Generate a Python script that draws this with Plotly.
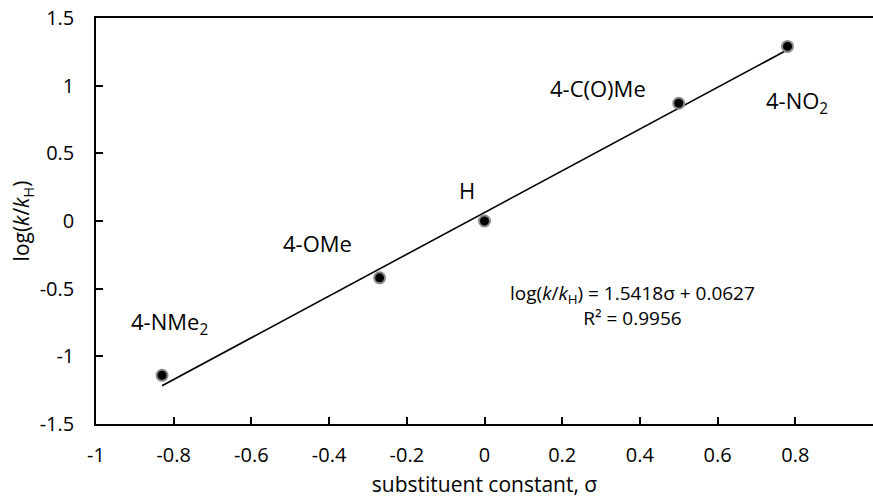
import plotly.graph_objects as go

sigma = [-0.83, -0.27, 0.0, 0.50, 0.78]
logk = [-1.14, -0.42, 0.0, 0.87, 1.29]
labels = ["4-NMe<sub>2</sub>", "4-OMe", "H", "4-C(O)Me", "4-NO<sub>2</sub>"]
label_x = [-0.81, -0.43, -0.045, 0.292, 0.804]
label_y = [-0.75, -0.165, 0.23, 0.985, 0.88]
slope = 1.5418
intercept = 0.0627
r2 = 0.9956

x_ticks = [-1, -0.8, -0.6, -0.4, -0.2, 0, 0.2, 0.4, 0.6, 0.8, 1]
x_ticktext = ["-1", "-0.8", "-0.6", "-0.4", "-0.2", "0", "0.2", "0.4", "0.6", "0.8", "1"]
y_ticks = [-1.5, -1, -0.5, 0, 0.5, 1, 1.5]
y_ticktext = ["-1.5", "-1", "-0.5", "0", "0.5", "1", "1.5"]

fit_x = [min(sigma), max(sigma)]
fit_y = [slope * v + intercept for v in fit_x]

FONT = "'Open Sans', Lato, sans-serif"

fig = go.Figure()
fig.add_trace(go.Scatter(x=fit_x, y=fit_y, mode="lines",
                         line=dict(color="black", width=1.6), showlegend=False,
                         hoverinfo="skip"))
fig.add_trace(go.Scatter(x=sigma, y=logk, mode="markers",
                         marker=dict(color="black", size=11,
                                     line=dict(color="#8a8a8a", width=2)),
                         showlegend=False))

for t, x, y in zip(labels, label_x, label_y):
    fig.add_annotation(x=x, y=y, text=t, showarrow=False,
                       font=dict(family=FONT, size=22, color="black"))

fig.add_annotation(x=0.38, y=-0.628, showarrow=False, align="center",
                   text=(f"log(<i>k</i>/<i>k</i><sub>H</sub>) = {slope}σ + {intercept}"
                         f"<br>R² = {r2}"),
                   font=dict(family=FONT, size=19, color="black"))

fig.update_layout(
    width=873, height=498,
    margin=dict(l=96, r=0, t=18, b=74),
    plot_bgcolor="white", paper_bgcolor="white",
    font=dict(family=FONT, size=16, color="black"),
    xaxis=dict(range=[-1, 1], tickvals=x_ticks, ticktext=x_ticktext,
               showgrid=False, zeroline=False, automargin=False,
               showline=True, linecolor="black", linewidth=1.5, mirror=True,
               ticks="inside", ticklen=7, tickcolor="black", tickwidth=1.5,
               tickfont=dict(size=20), ticklabelstandoff=12,
               title=dict(text="substituent constant, σ", font=dict(size=21), standoff=12)),
    yaxis=dict(range=[-1.5, 1.5], tickvals=y_ticks, ticktext=y_ticktext,
               showgrid=False, zeroline=False, automargin=False,
               showline=True, linecolor="black", linewidth=1.5, mirror=True,
               ticks="inside", ticklen=7, tickcolor="black", tickwidth=1.5,
               tickfont=dict(size=20), ticklabelstandoff=16,
               title=dict(text="log(<i>k</i>/<i>k</i><sub>H</sub>)", font=dict(size=21), standoff=4)),
)

fig.write_html("out.html", config={"displayModeBar": False},
               post_script="document.body.style.margin='0';document.body.style.overflow='hidden';")
